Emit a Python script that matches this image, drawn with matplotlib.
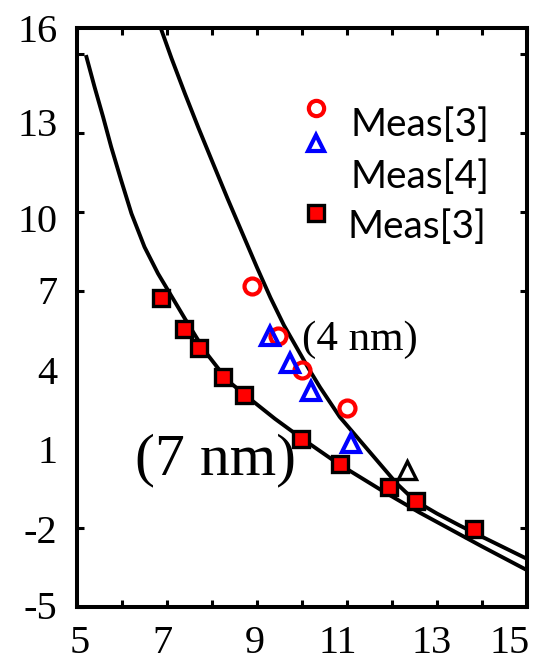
import matplotlib.pyplot as plt

# fitted curves
upper_x = [6.86, 7.1, 7.4, 7.7, 8.0, 8.35, 8.7, 9.0, 9.3, 9.6, 9.9, 10.15, 10.4, 10.84, 11.3, 11.7, 12.1, 12.5, 13.0, 13.5, 14.0, 15.0]
upper_y = [17.0, 15.85, 14.5, 13.2, 11.95, 10.5, 9.1, 7.9, 6.75, 5.7, 4.8, 4.05, 3.35, 2.22, 1.3, 0.5, -0.3, -0.95, -1.45, -1.9, -2.33, -3.17]
lower_x = [5.21, 5.39, 5.58, 5.76, 5.98, 6.21, 6.5, 6.8, 7.02, 7.4, 7.85, 8.35, 8.85, 9.4, 10.0, 10.8, 11.8, 12.6, 13.3, 14.0, 15.0]
lower_y = [15.9, 14.76, 13.62, 12.48, 11.22, 9.95, 8.68, 7.67, 7.04, 5.95, 4.7, 3.6, 2.9, 2.15, 1.4, 0.45, -0.6, -1.4, -2.05, -2.7, -3.6]

# measurements
sq_x = [6.87, 7.38, 7.71, 8.24, 8.71, 9.98, 10.84, 11.93, 12.53, 13.82]
sq_y = [6.74, 5.56, 4.84, 3.74, 3.05, 1.38, 0.43, -0.44, -0.97, -2.04]
circ_x = [8.88, 9.47, 9.99, 11.0]
circ_y = [7.21, 5.30, 4.0, 2.56]
tri_x = [9.29, 9.73, 10.2, 11.09]
tri_y = [5.28, 4.27, 3.2, 1.23]
tri_black_x = [12.33]
tri_black_y = [0.2]

xticks = list(range(5, 16))
# labels sit a little off their ticks in the original
xlabel_pos = [5.07, 6.89, 8.96, 10.8, 12.89, 14.62]
xlabels = ["5", "7", "9", "11", "13", "15"]
yticks = [-5, -2, 1, 4, 7, 10, 13, 16]
ylabel_pos = [-4.92, -2.04, 1.0, 4.0, 7.04, 9.77, 13.42, 16.99]
ylabels = ["-5", "-2", "1", "4", "7", "10", "13", "16"]

legend_labels = ["Meas[3]", "Meas[4]", "Meas[3]"]

serif = "Liberation Serif"
sans = "Lato"

fig = plt.figure(figsize=(5.38, 6.66), dpi=100)
ax = fig.add_axes([77 / 538, 1 - 607 / 666, 450 / 538, 579 / 666])

ax.plot(upper_x, upper_y, color="black", lw=2.8, zorder=2)
ax.plot(lower_x, lower_y, color="black", lw=2.8, zorder=2)

ax.plot(sq_x, sq_y, "s", ms=11, mfc="red", mec="black", mew=2.4, zorder=3)
ax.plot(circ_x, circ_y, "o", ms=11.5, mfc="none", mec="red", mew=3, zorder=3)
ax.plot(tri_x, tri_y, "^", ms=13, mfc="none", mec="blue", mew=3, zorder=4)
ax.plot(tri_black_x, tri_black_y, "^", ms=13, mfc="none", mec="black", mew=2.4, zorder=4)

# hand-placed legend, as in the original
ax.plot([0.531], [0.862], "o", ms=11, mfc="none", mec="red", mew=3, transform=ax.transAxes)
ax.plot([0.531], [0.801], "^", ms=12, mfc="none", mec="blue", mew=3, transform=ax.transAxes)
ax.plot([0.531], [0.680], "s", ms=11, mfc="red", mec="black", mew=2.4, transform=ax.transAxes)
for (tx, ty), lab in zip([(0.607, 0.832), (0.607, 0.743), (0.602, 0.656)], legend_labels):
    ax.text(tx, ty, lab, transform=ax.transAxes, fontsize=28, family=sans, va="center", ha="left")

ax.text(0.5, 0.461, "(4 nm)", transform=ax.transAxes, fontsize=31, family=serif, va="center", ha="left")
ax.text(0.129, 0.254, "(7 nm)", transform=ax.transAxes, fontsize=43, family=serif, va="center", ha="left")

ax.set_xlim(5, 15)
ax.set_ylim(-5, 17)
ax.set_xticks(xticks, minor=True)
ax.set_xticks(xlabel_pos, xlabels)
ax.set_yticks(yticks, minor=True)
ax.set_yticks(ylabel_pos, ylabels)
ax.tick_params(which="major", length=0)
ax.tick_params(axis="y", which="major", pad=14)
ax.tick_params(axis="x", which="major", pad=13)
ax.tick_params(which="minor", direction="in", length=5, width=2.2,
               left=True, right=True, top=True, bottom=True)
for lab in ax.get_xticklabels() + ax.get_yticklabels():
    lab.set_fontfamily(serif)
    lab.set_fontsize(29)

for sp in ax.spines.values():
    sp.set_linewidth(2.9)

plt.savefig("out.png", dpi=100)
